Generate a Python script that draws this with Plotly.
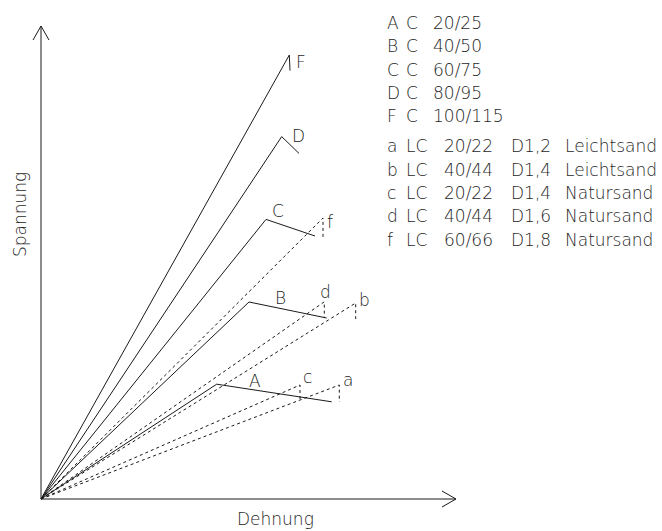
import plotly.graph_objects as go

# ---------------- data (schematic stress-strain diagram) ----------------
# Dehnung (strain, arbitrary units) and Spannung (stress, arbitrary units)
concrete_labels = ["A", "B", "C", "D", "F"]
concrete_types = ["C", "C", "C", "C", "C"]
concrete_grades = ["20/25", "40/50", "60/75", "80/95", "100/115"]
concrete_peak_strain = [1.757, 2.08, 2.25, 2.407, 2.483]
concrete_peak_stress = [28.7, 49.25, 69.9, 90.6, 111.0]
concrete_end_strain = [2.907, 2.857, 2.74, 2.58, 2.49]
concrete_end_stress = [24.3, 45.25, 65.75, 86.4, 107.1]

lc_labels = ["a", "b", "c", "d", "f"]
lc_types = ["LC", "LC", "LC", "LC", "LC"]
lc_grades = ["20/22", "40/44", "20/22", "40/44", "60/66"]
lc_density = ["D1,2", "D1,4", "D1,4", "D1,6", "D1,8"]
lc_sand = ["Leichtsand", "Leichtsand", "Natursand", "Natursand", "Natursand"]
lc_peak_strain = [2.983, 3.147, 2.59, 2.833, 2.82]
lc_peak_stress = [28.5, 49.0, 28.5, 49.3, 70.25]
lc_end_stress = [24.25, 45.0, 24.5, 45.35, 65.5]

x_title = "Dehnung"
y_title = "Spannung"

# ---------------- style / layout ----------------
W, H = 662, 531
ORIGIN_PX = (41, 499)
PX_PER_X = 100.0
PX_PER_Y = 4.0
X_AXIS_END = 4.15
Y_AXIS_END = 118.25
LINE_COLOR = "#1a1a1a"
TEXT_COLOR = "#1e1e1e"
FONT = "DejaVu Sans"
FS = 17
FW = 200

# label offsets in pixels relative to the peak point (dx right, dy up)
concrete_label_shift = {"A": (38, 3), "B": (31, 4), "C": (12, 8), "D": (17, 1), "F": (12, -7)}
lc_label_shift = {"a": (9, 5), "b": (9, 3), "c": (7, 8), "d": (1, 10), "f": (7, -4)}

# legend column left edges (px) and row centres (px from top)
LEG_COLS_CONCRETE = [385, 404, 431]
LEG_COLS_LC = [385, 404, 442, 509, 563]
LEG_ROWS_CONCRETE = [22.5, 46, 69.5, 93, 116.5]
LEG_ROWS_LC = [146, 169.5, 193, 216.5, 240]

x_range = [-ORIGIN_PX[0] / PX_PER_X, (W - ORIGIN_PX[0]) / PX_PER_X]
y_range = [-(H - ORIGIN_PX[1]) / PX_PER_Y, ORIGIN_PX[1] / PX_PER_Y]


def tfont():
    return dict(family=FONT, size=FS, color=TEXT_COLOR, weight=FW)


fig = go.Figure()

# axes with arrows
arrow_back_px, arrow_half_px = 14, 8
line_style = dict(color=LINE_COLOR, width=1)
fig.add_trace(go.Scatter(x=[0, X_AXIS_END], y=[0, 0], mode="lines",
                         line=line_style, hoverinfo="skip"))
fig.add_trace(go.Scatter(x=[0, 0], y=[0, Y_AXIS_END], mode="lines",
                         line=line_style, hoverinfo="skip"))
ax_b = arrow_back_px / PX_PER_X
ax_h = arrow_half_px / PX_PER_Y
fig.add_trace(go.Scatter(x=[X_AXIS_END - ax_b, X_AXIS_END, X_AXIS_END - ax_b],
                         y=[ax_h, 0, -ax_h], mode="lines",
                         line=line_style, hoverinfo="skip"))
ay_b = arrow_back_px / PX_PER_Y
ay_h = arrow_half_px / PX_PER_X
fig.add_trace(go.Scatter(x=[-ay_h, 0, ay_h],
                         y=[Y_AXIS_END - ay_b, Y_AXIS_END, Y_AXIS_END - ay_b], mode="lines",
                         line=line_style, hoverinfo="skip"))

# normal concrete curves (solid)
for i, lab in enumerate(concrete_labels):
    fig.add_trace(go.Scatter(
        x=[0, concrete_peak_strain[i], concrete_end_strain[i]],
        y=[0, concrete_peak_stress[i], concrete_end_stress[i]],
        mode="lines", line=line_style,
        name=f"{concrete_types[i]} {concrete_grades[i]}", hoverinfo="name"))
    dx, dy = concrete_label_shift[lab]
    fig.add_annotation(x=concrete_peak_strain[i], y=concrete_peak_stress[i], text=lab,
                       showarrow=False, xshift=dx, yshift=dy, font=tfont())

# lightweight concrete curves (dashed)
for i, lab in enumerate(lc_labels):
    fig.add_trace(go.Scatter(
        x=[0, lc_peak_strain[i], lc_peak_strain[i]],
        y=[0, lc_peak_stress[i], lc_end_stress[i]],
        mode="lines", line=dict(color=LINE_COLOR, width=1, dash="3px,3px"),
        name=f"{lc_types[i]} {lc_grades[i]} {lc_density[i]} {lc_sand[i]}",
        hoverinfo="name"))
    dx, dy = lc_label_shift[lab]
    fig.add_annotation(x=lc_peak_strain[i], y=lc_peak_stress[i], text=lab,
                       showarrow=False, xshift=dx, yshift=dy, font=tfont())


# legend text block (each word placed at its column, like the CAD drawing)
def put_row(tokens, cols, ypx):
    for tok, xpx in zip(tokens, cols):
        fig.add_annotation(xref="paper", yref="paper", x=xpx / W, y=1 - ypx / H,
                           text=tok, showarrow=False, xanchor="left", yanchor="middle",
                           font=tfont())


for i in range(len(concrete_labels)):
    put_row([concrete_labels[i], concrete_types[i], concrete_grades[i]],
            LEG_COLS_CONCRETE, LEG_ROWS_CONCRETE[i])
for i in range(len(lc_labels)):
    put_row([lc_labels[i], lc_types[i], lc_grades[i], lc_density[i], lc_sand[i]],
            LEG_COLS_LC, LEG_ROWS_LC[i])

# axis titles
fig.add_annotation(xref="paper", yref="paper", x=275 / W, y=1 - 519 / H, text=x_title,
                   showarrow=False, xanchor="center", yanchor="middle", font=tfont())
fig.add_annotation(xref="paper", yref="paper", x=20 / W, y=1 - 215 / H, text=y_title,
                   showarrow=False, xanchor="center", yanchor="middle", textangle=-90,
                   font=tfont())

fig.update_layout(
    width=W, height=H, margin=dict(l=0, r=0, t=0, b=0),
    paper_bgcolor="white", plot_bgcolor="white", showlegend=False,
    xaxis=dict(range=x_range, visible=False, fixedrange=True),
    yaxis=dict(range=y_range, visible=False, fixedrange=True),
)

fig.write_html("out.html")
